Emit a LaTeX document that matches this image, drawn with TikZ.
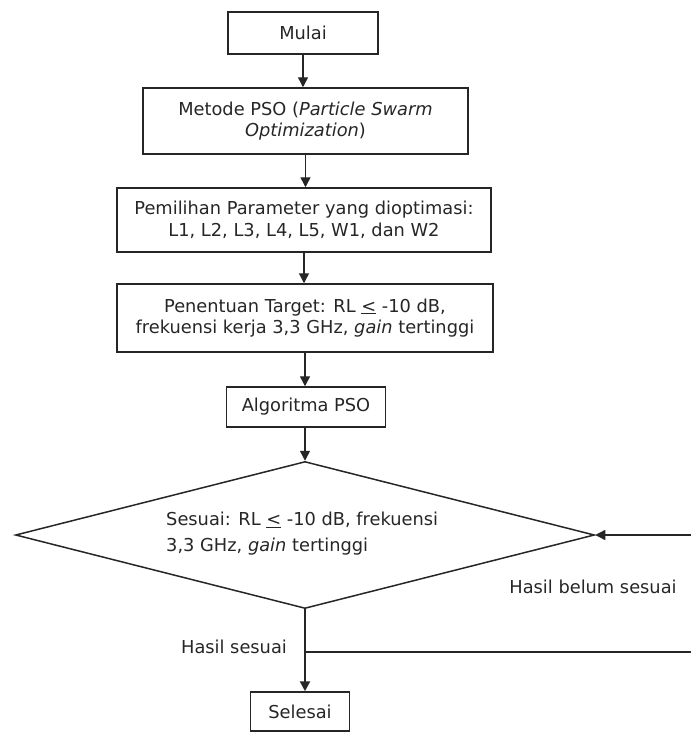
\documentclass[tikz,border=0pt]{standalone}
\usepackage{fontspec}
\setmainfont{DejaVu Sans}
\usetikzlibrary{arrows.meta,shapes.geometric}
\begin{document}
\begin{tikzpicture}[x=1pt,y=-1pt,
  box/.style={draw=black!85,line width=1.5pt,align=center,inner sep=0pt,
    font=\fontsize{17.8}{21.5}\selectfont,text=black!85},
  lbl/.style={font=\fontsize{17.8}{26}\selectfont,inner sep=0pt,text=black!85},
  arr/.style={line width=1.4pt,draw=black!85,-{Triangle[length=10pt,width=10pt]}}]
\useasboundingbox (0,0) rectangle (691,732);
\node[box,minimum width=150pt,minimum height=42pt] (mulai) at (303,33) {Mulai};
\node[box,minimum width=325pt,minimum height=66pt] (pso) at (305.5,121)
  {Metode PSO (\textit{Particle Swarm}\\\textit{Optimization})};
\node[box,minimum width=374pt,minimum height=64pt] (param) at (304,220)
  {Pemilihan Parameter yang dioptimasi:\\L1, L2, L3, L4, L5, W1, dan W2};
\node[box,minimum width=376pt,minimum height=68pt] (target) at (305,318)
  {Penentuan Target: RL \underline{<} -10 dB,\\frekuensi kerja 3,3 GHz, \textit{gain} tertinggi};
\node[box,minimum width=159pt,minimum height=40pt] (algo) at (306,407) {Algoritma PSO};
\node[diamond,draw=black!85,line width=1.5pt,minimum width=579pt,minimum height=147pt,inner sep=0pt] (cek) at (305,535) {};
\node[lbl,anchor=west,align=left] (cektxt) at (166,534)
  {Sesuai: RL \underline{<} -10 dB, frekuensi\\3,3 GHz, \textit{gain} tertinggi};
\node[box,minimum width=99pt,minimum height=39pt] (selesai) at (300,711.5) {Selesai};
\node[lbl] (belum) at (593,587) {Hasil belum sesuai};
\node[lbl] (sesuai) at (234,647) {Hasil sesuai};
\coordinate (e1) at (691,535);
\coordinate (e2) at (691,652);
\draw[arr] (mulai.south) -- (mulai.south |- pso.north);
\draw[arr] (pso.south) -- (pso.south |- param.north);
\draw[arr] (param.south) -- (param.south |- target.north);
\draw[arr] (target.south) -- (target.south |- algo.north);
\draw[arr] (cek.north |- algo.south) -- (cek.north);
\draw[arr,line width=2.2pt] (cek.south) -- (cek.south |- selesai.north);
\draw[arr] (e1) -- (cek.east);
\draw[line width=1.5pt,draw=black!85] (e2) -- (e2 -| cek.south);
\end{tikzpicture}
\end{document}
